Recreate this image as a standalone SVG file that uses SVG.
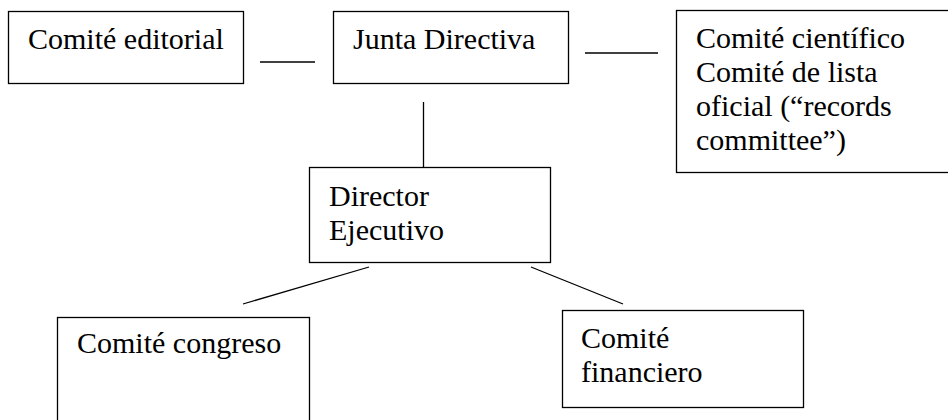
<svg xmlns="http://www.w3.org/2000/svg" width="948" height="420" viewBox="0 0 948 420">
<rect width="948" height="420" fill="#ffffff"/>
<g id="connectors" stroke="#000000" stroke-width="1.3" fill="none">
<line x1="260" y1="62" x2="315" y2="62" stroke="#000000" stroke-width="1.3"/>
<line x1="585" y1="53" x2="658" y2="53" stroke="#000000" stroke-width="1.3"/>
<line x1="423.5" y1="102" x2="423.5" y2="167" stroke="#000000" stroke-width="1.3"/>
<line x1="369" y1="267" x2="243" y2="304" stroke="#000000" stroke-width="1.3"/>
<line x1="531" y1="267" x2="623" y2="304" stroke="#000000" stroke-width="1.3"/>
</g>
<g id="comite-editorial">
<rect x="8.5" y="11.5" width="235" height="72" fill="#ffffff" stroke="#000000" stroke-width="1.3"/>
<text x="28" y="49" font-family="Liberation Serif, Times New Roman, serif" font-size="30">Comité editorial</text>
</g>
<g id="junta-directiva">
<rect x="333.5" y="11.5" width="235" height="72" fill="#ffffff" stroke="#000000" stroke-width="1.3"/>
<text x="353" y="49" font-family="Liberation Serif, Times New Roman, serif" font-size="30">Junta Directiva</text>
</g>
<g id="comite-cientifico">
<rect x="676.5" y="10.5" width="274" height="162" fill="#ffffff" stroke="#000000" stroke-width="1.3"/>
<text x="696" y="48" font-family="Liberation Serif, Times New Roman, serif" font-size="30">Comité científico</text>
<text x="696" y="82" font-family="Liberation Serif, Times New Roman, serif" font-size="30">Comité de lista</text>
<text x="696" y="116" font-family="Liberation Serif, Times New Roman, serif" font-size="30">oficial (“records</text>
<text x="696" y="150" font-family="Liberation Serif, Times New Roman, serif" font-size="30">committee”)</text>
</g>
<g id="director-ejecutivo">
<rect x="309.5" y="167.5" width="241" height="95" fill="#ffffff" stroke="#000000" stroke-width="1.3"/>
<text x="329" y="206" font-family="Liberation Serif, Times New Roman, serif" font-size="30">Director</text>
<text x="329" y="240" font-family="Liberation Serif, Times New Roman, serif" font-size="30">Ejecutivo</text>
</g>
<g id="comite-congreso">
<rect x="57.5" y="317.5" width="252" height="110" fill="#ffffff" stroke="#000000" stroke-width="1.3"/>
<text x="77" y="353" font-family="Liberation Serif, Times New Roman, serif" font-size="30">Comité congreso</text>
</g>
<g id="comite-financiero">
<rect x="562.5" y="310.5" width="241" height="97" fill="#ffffff" stroke="#000000" stroke-width="1.3"/>
<text x="581" y="348" font-family="Liberation Serif, Times New Roman, serif" font-size="30">Comité</text>
<text x="581" y="382" font-family="Liberation Serif, Times New Roman, serif" font-size="30">financiero</text>
</g>
</svg>
